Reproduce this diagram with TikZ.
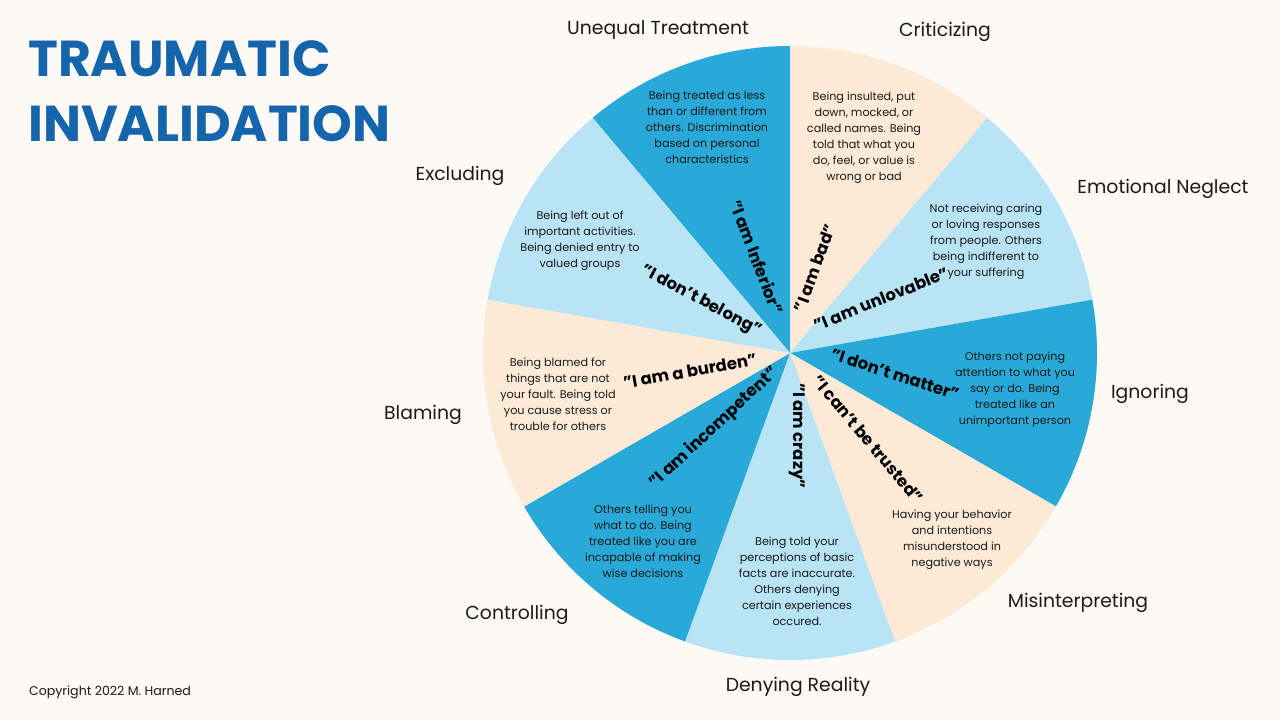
\documentclass[tikz,border=0pt]{standalone}
\usepackage{fontspec}
\setmainfont{Poppins}
\definecolor{bgc}{HTML}{FDF9F5}
\definecolor{darkb}{HTML}{29A9D7}
\definecolor{lightb}{HTML}{B8E4F5}
\definecolor{peach}{HTML}{FCEAD6}
\definecolor{titlec}{HTML}{1565AC}
\definecolor{ink}{HTML}{1A1A1A}
\tikzset{
  desc/.style={align=center, text=ink, font=\fontsize{11.2}{16}\selectfont, inner sep=0pt},
  quote/.style={text=black, font=\fontsize{16.5}{18}\selectfont\bfseries, inner sep=0pt},
  seglabel/.style={text=ink, font=\fontsize{18.8}{22}\selectfont, inner sep=0pt},
  titletext/.style={text=titlec, font=\fontsize{50.5}{60}\selectfont\bfseries, inner sep=0pt, anchor=base west},
}
\begin{document}
\begin{tikzpicture}[x=1pt,y=1pt]
\useasboundingbox (0,0) rectangle (1280,720);
\fill[bgc] (0,0) rectangle (1280,720);
\coordinate (c) at (790,367);
% segments
\fill[darkb]  (c) -- ++(90:307)  arc[start angle=90,  end angle=130, radius=307] -- cycle;
\fill[peach]  (c) -- ++(50:307)  arc[start angle=50,  end angle=90,  radius=307] -- cycle;
\fill[lightb] (c) -- ++(10:307)  arc[start angle=10,  end angle=50,  radius=307] -- cycle;
\fill[darkb]  (c) -- ++(-30:307) arc[start angle=-30, end angle=10,  radius=307] -- cycle;
\fill[peach]  (c) -- ++(-70:307) arc[start angle=-70, end angle=-30, radius=307] -- cycle;
\fill[lightb] (c) -- ++(-110:307) arc[start angle=-110, end angle=-70, radius=307] -- cycle;
\fill[darkb]  (c) -- ++(-150:307) arc[start angle=-150, end angle=-110, radius=307] -- cycle;
\fill[peach]  (c) -- ++(170:307) arc[start angle=170, end angle=210, radius=307] -- cycle;
\fill[lightb] (c) -- ++(130:307) arc[start angle=130, end angle=170, radius=307] -- cycle;
% title
\node[titletext] (t1) at (28,643) {TRAUMATIC};
\node[titletext] (t2) at (28,578) {INVALIDATION};
\node[text=ink, font=\fontsize{12.6}{14}\selectfont, inner sep=0pt] (copy) at (110,28) {Copyright 2022 M. Harned};
% segment labels
\node[seglabel] (lUT) at (658,690) {Unequal Treatment};
\node[seglabel] (lCR) at (945,688) {Criticizing};
\node[seglabel] (lEN) at (1163,531) {Emotional Neglect};
\node[seglabel] (lIG) at (1150,326) {Ignoring};
\node[seglabel] (lMI) at (1078,117) {Misinterpreting};
\node[seglabel] (lDR) at (798,33) {Denying Reality};
\node[seglabel] (lCO) at (517,105) {Controlling};
\node[seglabel] (lBL) at (423,305) {Blaming};
\node[seglabel] (lEX) at (460,544) {Excluding};
% descriptions
\node[desc] (dUT) at (707,593) {Being treated as less\\than or different from\\others. Discrimination\\based on personal\\characteristics};
\node[desc] (dCR) at (864,582) {Being insulted, put\\down, mocked, or\\called names. Being\\told that what you\\do, feel, or value is\\wrong or bad};
\node[desc] (dEN) at (986,478) {Not receiving caring\\or loving responses\\from people. Others\\being indifferent to\\your suffering};
\node[desc] (dIG) at (1015,330) {Others not paying\\attention to what you\\say or do. Being\\treated like an\\unimportant person};
\node[desc] (dMI) at (952,180) {Having your behavior\\and intentions\\misunderstood in\\negative ways};
\node[desc] (dDR) at (797,139) {Being told your\\perceptions of basic\\facts are inaccurate.\\Others denying\\certain experiences\\occured.};
\node[desc] (dCO) at (643,179) {Others telling you\\what to do. Being\\treated like you are\\incapable of making\\wise decisions};
\node[desc] (dBL) at (558,326) {Being blamed for\\things that are not\\your fault. Being told\\you cause stress or\\trouble for others};
\node[desc] (dEX) at (580,479) {Being left out of\\important activities.\\Being denied entry to\\valued groups};
% quotes
\node[quote, rotate=70]  (qCR) at (815,452) {"I am bad"};
\node[quote, rotate=22]  (qEN) at (881,421) {"I am unlovable"};
\node[quote, rotate=-18] (qIG) at (895,346) {"I don't matter"};
\node[quote, rotate=-50] (qMI) at (868,281) {"I can't be trusted"};
\node[quote, rotate=-90] (qDR) at (797,284) {"I am crazy"};
\node[quote, rotate=43]  (qCO) at (714,292) {"I am incompetent"};
\node[quote, rotate=10]  (qBL) at (690,349) {"I am a burden"};
\node[quote, rotate=-28] (qEX) at (701,419) {"I don't belong"};
\node[quote, rotate=-69] (qUT) at (757,463) {"I am Inferior"};
\end{tikzpicture}
\end{document}
